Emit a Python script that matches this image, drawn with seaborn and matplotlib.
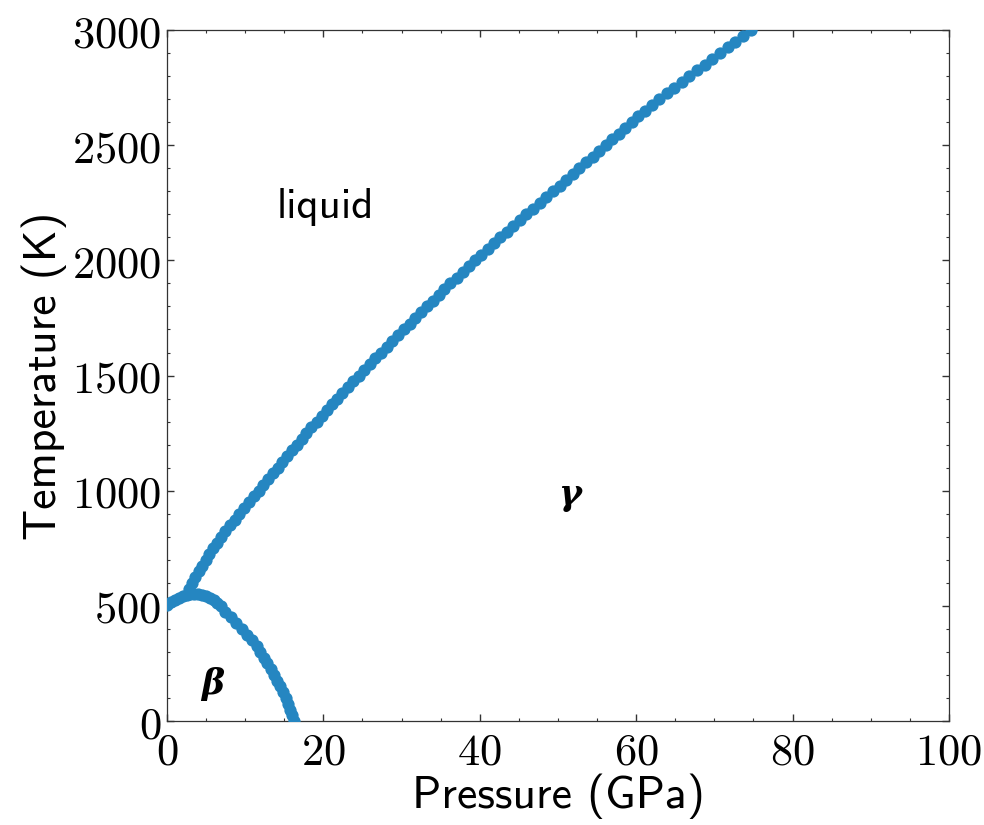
import matplotlib
matplotlib.use("Agg")
import matplotlib.pyplot as plt
import seaborn as sns
import pandas as pd
from matplotlib.ticker import MultipleLocator, FuncFormatter

# melting line (gamma - liquid)
melt_T = [575, 600, 625, 650, 675, 700, 725, 750, 775, 800,
          825, 850, 875, 900, 925, 950, 975, 1000, 1025, 1050,
          1075, 1100, 1125, 1150, 1175, 1200, 1225, 1250, 1275, 1300,
          1325, 1350, 1375, 1400, 1425, 1450, 1475, 1500, 1525, 1550,
          1575, 1600, 1625, 1650, 1675, 1700, 1725, 1750, 1775, 1800,
          1825, 1850, 1875, 1900, 1925, 1950, 1975, 2000, 2025, 2050,
          2075, 2100, 2125, 2150, 2175, 2200, 2225, 2250, 2275, 2300,
          2325, 2350, 2375, 2400, 2425, 2450, 2475, 2500, 2525, 2550,
          2575, 2600, 2625, 2650, 2675, 2700, 2725, 2750, 2775, 2800,
          2825, 2850, 2875, 2900, 2925, 2950, 2975, 3000]
melt_P = [2.85, 3.22, 3.64, 4.06, 4.47, 4.94, 5.43, 5.92, 6.42, 6.91,
          7.44, 8.05, 8.65, 9.25, 9.86, 10.48, 11.10, 11.71, 12.32, 12.94,
          13.55, 14.16, 14.77, 15.39, 16.00, 16.61, 17.22, 17.83, 18.48, 19.12,
          19.77, 20.42, 21.07, 21.75, 22.44, 23.13, 23.82, 24.52, 25.21, 25.90,
          26.61, 27.34, 28.08, 28.82, 29.56, 30.29, 31.03, 31.77, 32.51, 33.25,
          33.99, 34.73, 35.47, 36.24, 37.03, 37.82, 38.61, 39.40, 40.18, 41.00,
          41.82, 42.64, 43.46, 44.28, 45.11, 45.94, 46.79, 47.64, 48.49, 49.34,
          50.20, 51.05, 51.90, 52.74, 53.58, 54.42, 55.26, 56.10, 56.94, 57.77,
          58.61, 59.45, 60.29, 61.13, 61.97, 62.90, 63.88, 64.86, 65.83, 66.81,
          67.79, 68.76, 69.74, 70.72, 71.69, 72.67, 73.65, 74.62]

# beta - liquid
bliq_P = [0.0, 0.5, 1.0, 1.5, 2.0, 2.5, 3.0]
bliq_T = [503, 515, 526, 535, 543, 549, 553]

# beta - gamma
bg_P = [3.5, 4.0, 4.5, 5.0, 5.5, 6.0, 6.45, 6.9, 7.45, 8.15, 8.85, 9.65, 10.25,
        10.85, 11.45, 11.9, 12.35, 12.8, 13.25, 13.7, 14.1, 14.5, 14.85,
        15.2, 15.5, 15.75, 16.0, 16.25]
bg_T = [552, 550, 547, 541, 534, 525, 513, 500, 475, 450, 425, 400, 375,
        350, 325, 300, 275, 250, 225, 200, 175, 150, 125,
        100, 75, 50, 25, 0]

df = pd.DataFrame({
    "P": melt_P + bliq_P + bg_P,
    "T": melt_T + bliq_T + bg_T,
})

sns.set_style("white")
plt.rcParams["mathtext.fontset"] = "cm"
plt.rcParams["text.color"] = "black"
plt.rcParams["axes.labelcolor"] = "black"

fig = plt.figure(figsize=(9.84, 8.25), dpi=100)
ax = fig.add_axes([0.1697, 0.126, 0.7947, 0.8376])

sns.scatterplot(data=df, x="P", y="T", color="#2586c1", s=78,
                linewidth=0, ax=ax, zorder=3)

ax.set_xlim(0, 100)
ax.set_ylim(0, 3000)
ax.xaxis.set_major_locator(MultipleLocator(20))
ax.xaxis.set_minor_locator(MultipleLocator(5))
ax.yaxis.set_major_locator(MultipleLocator(500))
ax.yaxis.set_minor_locator(MultipleLocator(100))
fmt = FuncFormatter(lambda v, pos: "$%d$" % v)
ax.xaxis.set_major_formatter(fmt)
ax.yaxis.set_major_formatter(fmt)
ax.tick_params(which="both", direction="in", top=True, right=True,
               bottom=True, left=True, colors="#333333", labelcolor="black")
ax.tick_params(which="major", length=5, width=1, labelsize=32)
ax.tick_params(which="minor", length=2.5, width=0.8)
ax.tick_params(axis="x", which="major", pad=7)
ax.tick_params(axis="y", which="major", pad=4)
for sp in ax.spines.values():
    sp.set_color("#333333")
    sp.set_linewidth(0.9)

ax.set_xlabel("Pressure (GPa)", fontfamily="cmss10", fontsize=33, labelpad=0)
ax.set_ylabel("Temperature (K)", fontfamily="cmss10", fontsize=33, labelpad=4)

ax.text(20.2, 2230, "liquid", fontfamily="cmss10", fontsize=31,
        ha="center", va="center")
ax.text(51.5, 980, "γ", fontfamily="DejaVu Serif", fontstyle="italic",
        fontweight="bold", fontsize=25, ha="center", va="center")
ax.text(5.8, 160, "β", fontfamily="DejaVu Serif", fontstyle="italic",
        fontweight="bold", fontsize=25, ha="center", va="center")

fig.savefig("out.png", dpi=100)
